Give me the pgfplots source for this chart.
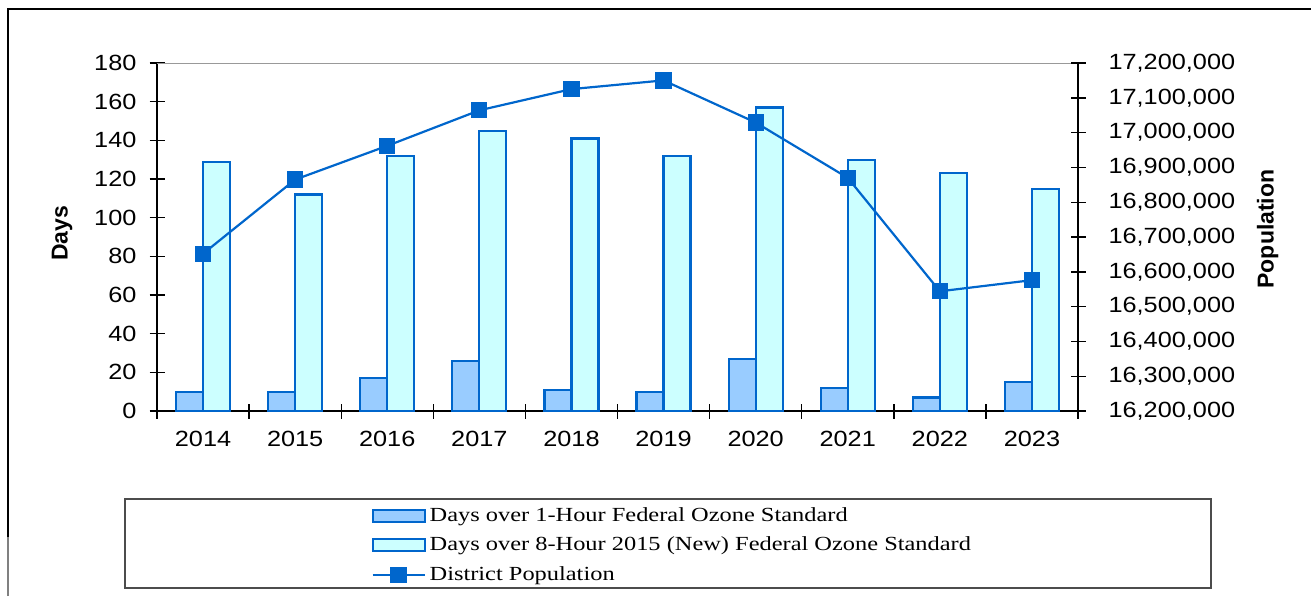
\documentclass[border=0pt]{standalone}
\usepackage{pgfplots}
\pgfplotsset{compat=1.18}
\usepackage{fontspec}
\setmainfont[FakeStretch=1.15]{Liberation Sans}
\newfontfamily\legfont[FakeStretch=1.22]{Liberation Serif}
\newfontfamily\labfont{Liberation Sans}
\definecolor{barA}{HTML}{99CCFF}
\definecolor{barB}{HTML}{CCFFFF}
\definecolor{edge}{HTML}{0066CC}
\pgfplotsset{
  barleg/.style={legend image code/.code={\draw[##1] (0pt,-3pt) rectangle (26pt,3pt);}},
  lineleg/.style={legend image code/.code={\draw[##1, mark repeat=2, mark phase=2] plot coordinates {(0pt,0pt) (13pt,0pt) (26pt,0pt)};}},
  common/.style={
    at={(78.5pt,92.5pt)}, anchor=south west, scale only axis,
    width=460.5pt, height=174pt, xmin=-0.5, xmax=9.5,
    axis line style={-, black, line width=0.7pt},
    tick align=center, major tick length=7.5pt,
    tick style={black, line width=0.7pt},
    /pgf/number format/assume math mode=true,
    tick label style={font=\fontsize{11}{13}\selectfont},
  }
}
\begin{document}
\begin{tikzpicture}
\path[use as bounding box] (0pt,0pt) rectangle (655.5pt,298pt);
\draw[black, line width=1pt] (4pt,29.5pt) -- (4pt,293.5pt) -- (655.5pt,293.5pt);
\draw[gray, line width=1pt] (4pt,0pt) -- (4pt,29.5pt);
\draw[black!70, line width=0.8pt] (62.5pt,4pt) rectangle (605.5pt,48.5pt);
\begin{axis}[common,
  ymin=0, ymax=180, ytick={0,20,...,180},
  axis x line*=bottom, axis y line*=left,
  yticklabel style={xshift=-3pt},
  xtick={-0.5,0.5,...,9.5}, xticklabels={},
  extra x ticks={0,1,2,3,4,5,6,7,8,9},
  extra x tick labels={2014,2015,2016,2017,2018,2019,2020,2021,2022,2023},
  extra x tick style={major tick length=0pt, tick label style={yshift=-6.5pt}},
  ylabel={\labfont\bfseries\fontsize{11.5}{13}\selectfont Days},
  ylabel style={at={(axis description cs:-0.103,0.511)}, anchor=center},
]
\addplot[ybar, bar width=13.5pt, bar shift=-6.75pt, fill=barA, draw=edge, line width=1.1pt]
  coordinates {(0,10) (1,10) (2,17) (3,26) (4,11) (5,10) (6,27) (7,12) (8,7) (9,15)};
\addplot[ybar, bar width=13.5pt, bar shift=6.75pt, fill=barB, draw=edge, line width=1.1pt]
  coordinates {(0,129) (1,112) (2,132) (3,145) (4,141) (5,132) (6,157) (7,130) (8,123) (9,115)};
\draw[gray!80, line width=1pt] (rel axis cs:0,1) -- (rel axis cs:1,1);
\end{axis}
\begin{axis}[common,
  ymin=16200000, ymax=17200000,
  ytick={16200000,16300000,16400000,16500000,16600000,16700000,16800000,16900000,17000000,17100000,17200000},
  axis x line=none, axis y line*=right,
  scaled y ticks=false,
  yticklabel style={xshift=8pt, /pgf/number format/.cd, fixed, precision=0, 1000 sep={,}},
  ylabel={\labfont\bfseries\fontsize{11.5}{13}\selectfont Population},
  ylabel style={at={(axis description cs:1.206,0.523)}, anchor=center},
  legend style={draw=none, fill=none, at={(axis description cs:0.2324,-0.265)}, anchor=north west,
    font=\legfont\fontsize{10}{12}\selectfont, inner sep=0pt, row sep=2.2pt},
  legend cell align=left,
]
\addlegendimage{barleg, fill=barA, draw=edge, line width=1pt}
\addlegendimage{barleg, fill=barB, draw=edge, line width=1pt}
\addplot[lineleg, color=edge, line width=1.1pt, mark=square*, mark size=3.5pt, mark options={fill=edge}]
  coordinates {(0,16652000) (1,16865000) (2,16962000) (3,17064000) (4,17125000) (5,17150000) (6,17029000) (7,16870000) (8,16544000) (9,16576000)};
\legend{Days over 1-Hour Federal Ozone Standard, Days over 8-Hour 2015 (New) Federal Ozone Standard, District Population}
\end{axis}
\end{tikzpicture}
\end{document}
